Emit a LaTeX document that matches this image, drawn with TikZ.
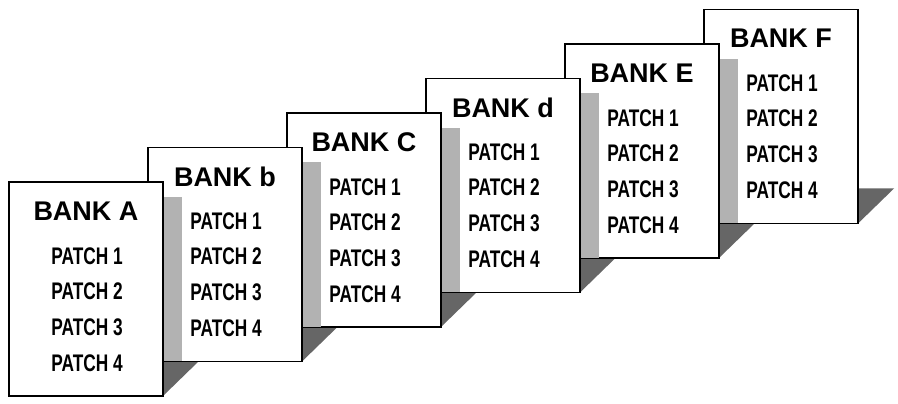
\documentclass[tikz,border=0pt]{standalone}
\usepackage{fontspec}
\setmainfont{Liberation Sans}
\newfontfamily\narrowfont[FakeStretch=0.72]{Liberation Sans}
\tikzset{
card/.style={draw,line width=1.6pt,fill=white,minimum width=154pt,minimum height=214pt,inner sep=0pt},
title/.style={font=\bfseries\fontsize{27}{30}\selectfont,inner sep=0pt},
patch/.style={font=\narrowfont\bfseries\fontsize{24}{26}\selectfont,inner sep=0pt},
strip/.style={fill=black!30},
floor/.style={fill=black!60}}
\begin{document}
\begin{tikzpicture}[x=1pt,y=1pt]
  \useasboundingbox (0,0) rectangle (898,404);
  % shadows on the floor
  \foreach \i in {0,...,5}
    \fill[floor] (163+139*\i,43+34.5*\i) -- ++(36,0) -- (163+139*\i,8+34.5*\i) -- cycle;
  % cards, back to front
  \foreach \i/\l in {5/F,4/E,3/d,2/C,1/b,0/A}{
    \node[card] (bank\l) at (86+139*\i,115+34.5*\i) {};
    \ifnum\i>0
      \fill[strip] ([xshift=16pt,yshift=-50pt]bank\l.north west) rectangle ([xshift=35pt,yshift=0.8pt]bank\l.south west);
    \fi
    \node[title] (title\l) at ([yshift=-30pt]bank\l.north) {BANK \l};
    \foreach \p/\d in {1/75,2/110,3/146,4/182}
      \node[patch] (patch\l\p) at ([xshift=1pt,yshift=-\d pt]bank\l.north) {PATCH \p};
  }
\end{tikzpicture}
\end{document}
